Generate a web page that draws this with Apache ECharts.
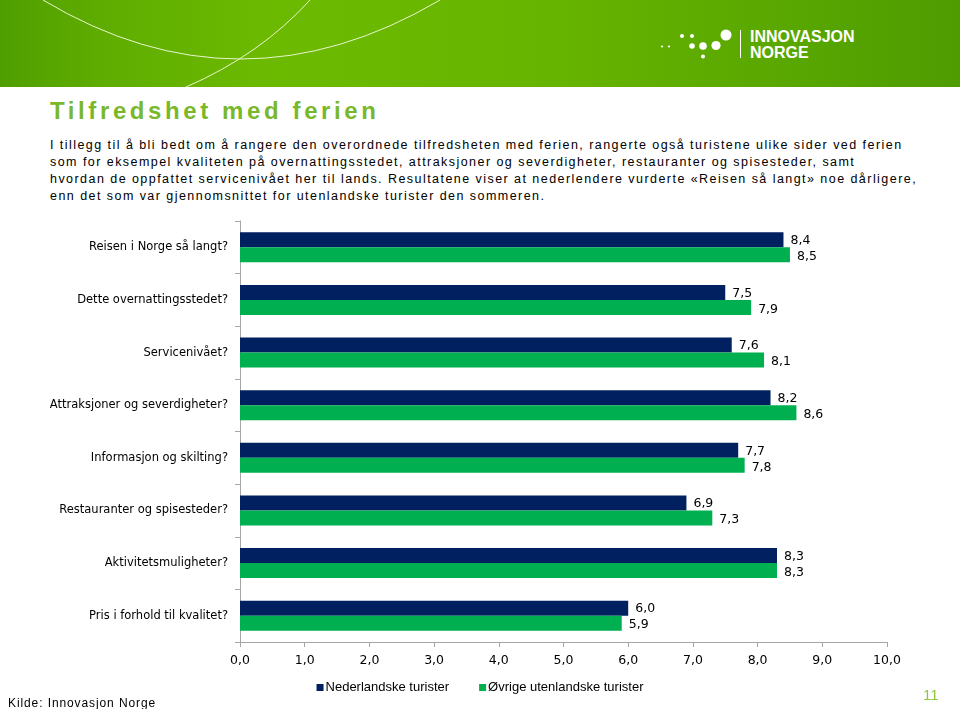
<!DOCTYPE html>
<html>
<head>
<meta charset="utf-8">
<script src="https://cdn.jsdelivr.net/npm/echarts@6/dist/echarts.min.js"></script>
<style>
  html,body{margin:0;padding:0;background:#fff;}
  #wrap{position:relative;width:960px;height:709px;overflow:hidden;}
  #header{position:absolute;left:0;top:0;width:960px;height:87px;
    background:linear-gradient(90deg,#4f9e00 0%,#5eac00 10%,#6cba00 28%,#68b500 55%,#5aa800 80%,#4e9c00 100%);}
  #chart{position:absolute;left:0;top:0;width:960px;height:709px;}
  #title{position:absolute;left:50px;top:97px;font-family:"Liberation Sans",Arial,sans-serif;font-weight:bold;
    font-size:24px;letter-spacing:3.6px;color:#78b82a;white-space:nowrap;}
  #para{position:absolute;left:50px;top:137px;font-family:"Liberation Sans",Arial,sans-serif;font-size:12.5px;
    line-height:17px;letter-spacing:1.45px;color:#000;white-space:nowrap;}
  #kilde{position:absolute;left:8px;top:696px;font-family:"Liberation Sans",Arial,sans-serif;font-size:12px;letter-spacing:0.9px;color:#000;}
  #page{position:absolute;left:923px;top:686px;font-family:"Liberation Sans",Arial,sans-serif;font-size:15px;color:#8dc63f;}
</style>
</head>
<body>
<div id="wrap">
  <div id="header">
    <svg width="960" height="87" style="position:absolute;left:0;top:0">
      <path d="M43,0 Q240,118 440,0" stroke="#e8f5d0" stroke-width="1" fill="none"/>
      <path d="M310,0 Q260,55 186,87" stroke="#e8f5d0" stroke-width="1" fill="none"/>
      <g fill="#ffffff">
        <circle cx="662" cy="46.5" r="1.1"/>
        <circle cx="669" cy="46.5" r="1.1"/>
        <circle cx="682" cy="36" r="2"/>
        <circle cx="692" cy="36" r="2"/>
        <circle cx="692" cy="46" r="2.8"/>
        <circle cx="703" cy="46" r="3.8"/>
        <circle cx="716" cy="45.5" r="4.6"/>
        <circle cx="726" cy="35" r="5.5"/>
        <circle cx="703" cy="56.5" r="2"/>
      </g>
      <line x1="740.5" y1="30" x2="740.5" y2="58" stroke="#ffffff" stroke-width="1"/>
      <text x="750" y="42" fill="#fff" font-family="Liberation Sans, Arial, sans-serif" font-weight="bold" font-size="16" letter-spacing="0">INNOVASJON</text>
      <text x="750" y="58" fill="#fff" font-family="Liberation Sans, Arial, sans-serif" font-weight="bold" font-size="16" letter-spacing="0">NORGE</text>
    </svg>
  </div>
  <div id="title">Tilfredshet med ferien</div>
  <div id="para">I tillegg til å bli bedt om å rangere den overordnede tilfredsheten med ferien, rangerte også turistene ulike sider ved ferien<br>som for eksempel kvaliteten på overnattingsstedet, attraksjoner og severdigheter, restauranter og spisesteder, samt<br>hvordan de oppfattet servicenivået her til lands. Resultatene viser at nederlendere vurderte «Reisen så langt» noe dårligere,<br>enn det som var gjennomsnittet for utenlandske turister den sommeren.</div>
  <div id="chart"></div>
  <div id="kilde">Kilde: Innovasjon Norge</div>
  <div id="page">11</div>
</div>
<script>
var categories = ["Reisen i Norge så langt?","Dette overnattingsstedet?","Servicenivået?","Attraksjoner og severdigheter?","Informasjon og skilting?","Restauranter og spisesteder?","Aktivitetsmuligheter?","Pris i forhold til kvalitet?"];
var nederlandske = [8.4,7.5,7.6,8.2,7.7,6.9,8.3,6.0];
var ovrige = [8.5,7.9,8.1,8.6,7.8,7.3,8.3,5.9];
var seriesNames = ["Nederlandske turister","Øvrige utenlandske turister"];

function fmt(v){ return Number(v).toFixed(1).replace('.', ','); }

var chart = echarts.init(document.getElementById('chart'), null, {renderer:'canvas'});
var fontFam = '"DejaVu Sans", Verdana, sans-serif';
chart.setOption({
  animation:false,
  backgroundColor:'transparent',
  grid:{left:240, right:73, top:221, bottom:67, containLabel:false},
  legend:{
    data:seriesNames, bottom:10, left:'center', icon:'rect', itemWidth:7, itemHeight:7, itemGap:30,
    textStyle:{fontFamily:'"Liberation Sans", Arial, sans-serif', fontSize:13, color:'#000', padding:[0,0,0,-3]}
  },
  xAxis:{
    type:'value', min:0, max:10, interval:1,
    axisLine:{show:true, lineStyle:{color:'#a6a6a6'}},
    axisTick:{show:true, length:5, lineStyle:{color:'#a6a6a6'}},
    splitLine:{show:false},
    axisLabel:{formatter:function(v){return fmt(v);}, margin:12, fontFamily:fontFam, fontSize:12.5, color:'#000'}
  },
  yAxis:{
    type:'category', data:categories, inverse:true,
    axisLine:{show:true, lineStyle:{color:'#a6a6a6'}},
    axisTick:{show:true, length:5, lineStyle:{color:'#a6a6a6'}},
    axisLabel:{margin:12, fontFamily:fontFam, fontSize:11.5, color:'#000'}
  },
  series:[
    {name:seriesNames[0], type:'bar', data:nederlandske, barGap:'0%', barCategoryGap:'43%',
     itemStyle:{color:'#002060'},
     label:{show:true, position:'right', distance:7, offset:[0,1], fontFamily:fontFam, fontSize:12.5, color:'#000', formatter:function(p){return fmt(p.value);}}},
    {name:seriesNames[1], type:'bar', data:ovrige, barGap:'0%', barCategoryGap:'43%',
     itemStyle:{color:'#00b050'},
     label:{show:true, position:'right', distance:7, offset:[0,2], fontFamily:fontFam, fontSize:12.5, color:'#000', formatter:function(p){return fmt(p.value);}}}
  ]
});
</script>
</body>
</html>
